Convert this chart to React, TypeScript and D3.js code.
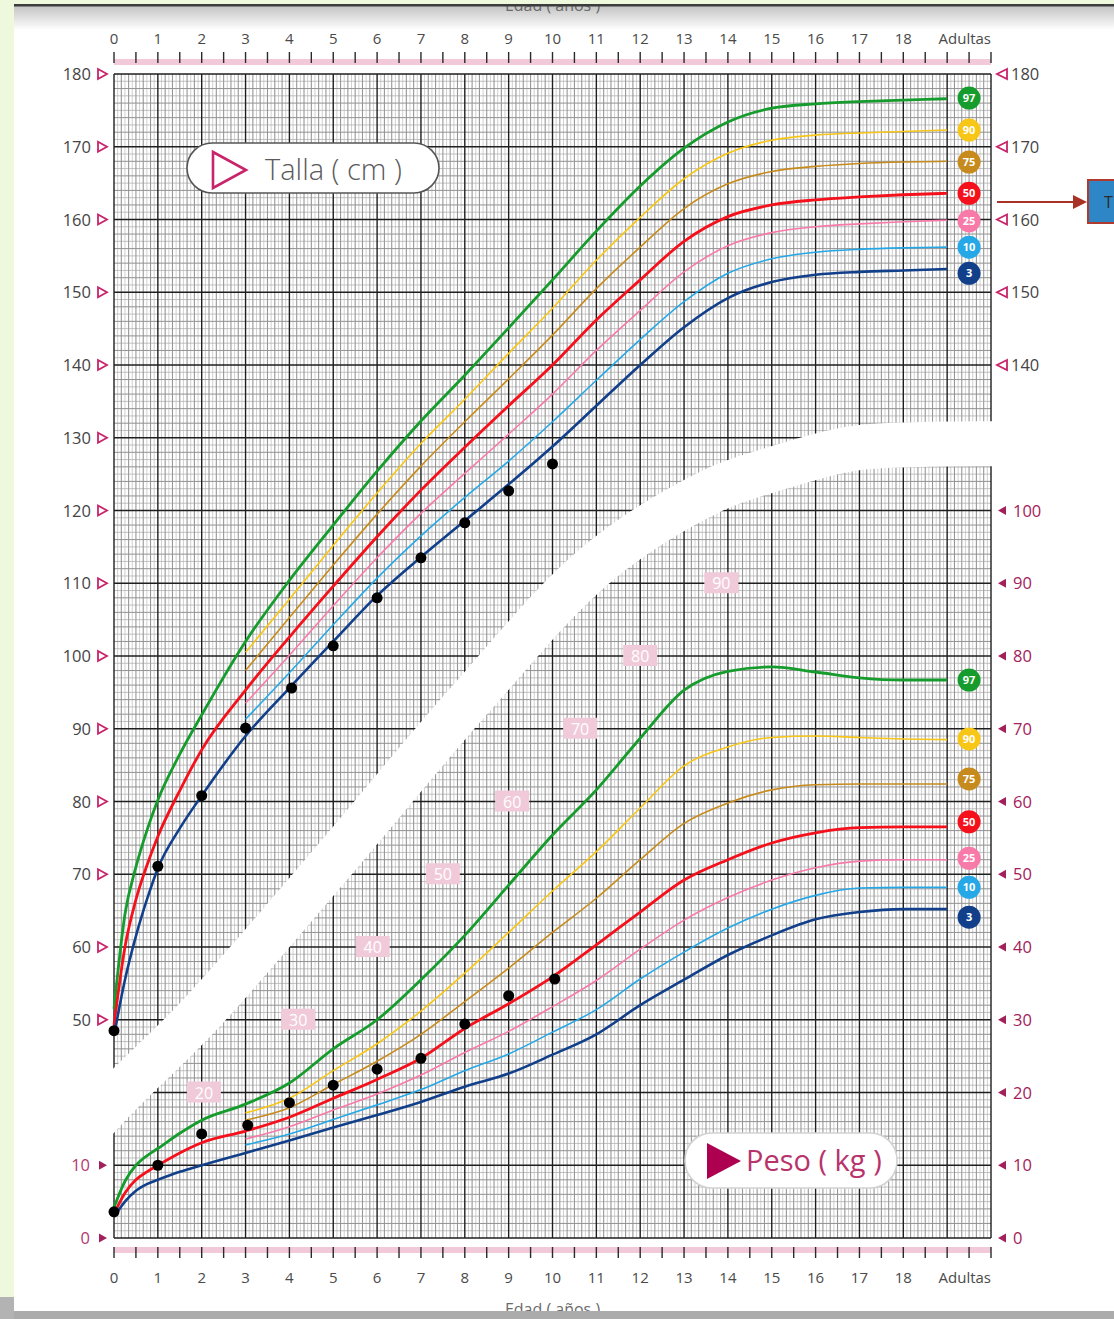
import React from "react";
import * as d3 from "d3";

const W = 1114;
const H = 1319;

// ---------- data ----------
const axisYearLabels = ["0","1","2","3","4","5","6","7","8","9","10","11","12","13","14","15","16","17","18"];
const adultLabel = "Adultas";
const heightLeftTicks = [50, 60, 70, 80, 90, 100, 110, 120, 130, 140, 150, 160, 170, 180];
const heightRightTicks = [140, 150, 160, 170, 180];
const weightLeftTicks = [0, 10];
const weightRightTicks = [0, 10, 20, 30, 40, 50, 60, 70, 80, 90, 100];

const curveAges = [0, 0.25, 0.5, 0.75, 1, 1.5, 2, 3, 4, 5, 6, 7, 8, 9, 10, 11, 12, 13, 14, 15, 16, 17, 18, 19];
const lateAges = [3, 4, 5, 6, 7, 8, 9, 10, 11, 12, 13, 14, 15, 16, 17, 18, 19];

const heightP97 = [51.5, 64.5, 71.0, 76.0, 80.2, 86.5, 91.9, 102.0, 110.4, 118.0, 125.4, 132.3, 138.6, 145.1, 151.7, 158.4, 164.6, 169.8, 173.4, 175.3, 175.9, 176.2, 176.4, 176.6];
const heightP90 = [100.5, 107.8, 115.2, 122.4, 129.2, 135.3, 141.6, 147.8, 154.4, 160.3, 165.6, 169.1, 170.9, 171.6, 171.9, 172.1, 172.3];
const heightP75 = [98.0, 105.3, 112.5, 119.5, 126.1, 132.2, 138.1, 144.1, 150.5, 156.2, 161.5, 164.9, 166.6, 167.3, 167.7, 167.9, 168.0];
const heightP50 = [49.3, 60.0, 66.5, 71.2, 75.2, 81.5, 87.1, 95.3, 102.6, 109.6, 116.4, 122.8, 128.7, 134.4, 140.0, 146.2, 151.7, 157.0, 160.4, 162.0, 162.7, 163.1, 163.4, 163.6];
const heightP25 = [93.5, 100.1, 106.9, 113.5, 119.6, 125.1, 130.5, 136.0, 142.0, 147.5, 152.8, 156.4, 158.2, 159.0, 159.4, 159.7, 159.9];
const heightP10 = [91.3, 97.7, 104.3, 110.7, 116.5, 121.8, 126.8, 132.2, 137.9, 143.5, 148.7, 152.6, 154.6, 155.5, 155.9, 156.1, 156.2];
const heightP3 = [47.8, 55.5, 61.5, 66.5, 70.8, 76.3, 80.8, 89.0, 95.6, 102.0, 108.3, 113.6, 118.6, 123.6, 128.8, 134.4, 140.0, 145.2, 149.2, 151.4, 152.4, 152.8, 153.0, 153.2];

const weightP97 = [4.2, 7.8, 10.0, 11.3, 12.3, 14.4, 16.2, 18.4, 21.3, 26.0, 30.0, 35.5, 41.6, 48.5, 55.4, 61.6, 68.7, 75.3, 77.9, 78.5, 77.8, 77.0, 76.7, 76.7];
const weightP90 = [17.2, 19.2, 23.0, 26.7, 31.2, 36.4, 42.0, 47.7, 53.1, 59.1, 64.9, 67.5, 68.8, 69.0, 68.8, 68.6, 68.5];
const weightP75 = [16.2, 17.9, 21.1, 24.3, 28.0, 32.5, 37.1, 42.0, 46.7, 52.0, 57.0, 59.8, 61.6, 62.3, 62.4, 62.4, 62.4];
const weightP50 = [3.3, 6.2, 8.0, 9.1, 10.0, 11.7, 13.1, 14.7, 16.6, 19.2, 21.8, 24.7, 28.8, 32.2, 35.9, 40.3, 44.8, 49.2, 52.0, 54.3, 55.7, 56.4, 56.5, 56.5];
const weightP25 = [13.6, 15.3, 17.6, 19.8, 22.4, 25.5, 28.4, 31.8, 35.4, 39.7, 43.7, 46.8, 49.2, 50.9, 51.8, 52.0, 52.0];
const weightP10 = [12.8, 14.3, 16.3, 18.3, 20.4, 23.0, 25.3, 28.3, 31.4, 35.6, 39.3, 42.6, 45.2, 47.1, 48.1, 48.2, 48.2];
const weightP3 = [2.9, 5.0, 6.5, 7.4, 8.0, 9.1, 10.0, 11.7, 13.4, 15.2, 16.9, 18.7, 20.8, 22.6, 25.2, 28.0, 32.0, 35.5, 38.9, 41.6, 43.8, 44.8, 45.2, 45.2];

const percentileNames = ["97", "90", "75", "50", "25", "10", "3"];
const heightBadgeValues = [176.7, 172.3, 167.9, 163.6, 159.8, 156.2, 152.6];
const weightBadgeValues = [76.7, 68.6, 63.1, 57.2, 52.2, 48.2, 44.1];

const heightDotAges = [0, 1, 2, 3, 4.05, 5.0, 6.0, 7.0, 8.0, 9.0, 10.0];
const heightDotValues = [48.5, 71.1, 80.8, 90.1, 95.6, 101.4, 108.0, 113.5, 118.3, 122.7, 126.4];
const weightDotAges = [0, 1, 2, 3.05, 4.0, 5.0, 6.0, 7.0, 8.0, 9.0, 10.05];
const weightDotValues = [3.6, 10.0, 14.3, 15.5, 18.6, 21.0, 23.2, 24.7, 29.4, 33.3, 35.6];

const scaleTagAges = [2.05, 4.2, 5.9, 7.5, 9.08, 10.63, 12.0, 13.85];
const scaleTagWeights = [20, 30, 40, 50, 60, 70, 80, 90];

// white separating band, centre line in (age, cm) units
const bandAges = [-1.5, 0, 1.96, 4.93, 8.12, 11.01, 13.64, 15.05, 16.81, 18.6, 21.5];
const bandValues = [29.0, 39.0, 50.7, 71.3, 94.0, 112.6, 122.7, 125.7, 128.5, 129.1, 129.1];

// ---------- styles ----------
const pColors = ["#169c2c", "#f7c616", "#c68b1c", "#f4111c", "#f77aa9", "#27a8e6", "#113f8a"];
const pWidths = [2.8, 1.6, 1.6, 2.8, 1.6, 1.6, 2.6];
const FONT = "'Open Sans', 'Noto Sans', sans-serif";
const PINK = "#c8246a";
const MAGENTA = "#a3215b";

export default function App() {
  const x = d3.scaleLinear().domain([0, 20]).range([114, 991]);
  const y = d3.scaleLinear().domain([20, 180]).range([1238, 74]);
  const yw = d3.scaleLinear().domain([0, 160]).range([1238, 74]);

  const lineH = d3.line<[number, number]>().x(d => x(d[0])).y(d => y(d[1])).curve(d3.curveMonotoneX);
  const lineW = d3.line<[number, number]>().x(d => x(d[0])).y(d => yw(d[1])).curve(d3.curveMonotoneX);
  const bandLine = d3.line<[number, number]>().x(d => x(d[0])).y(d => y(d[1])).curve(d3.curveCatmullRom.alpha(0.5));

  const heightSeries = [heightP97, heightP90, heightP75, heightP50, heightP25, heightP10, heightP3];
  const weightSeries = [weightP97, weightP90, weightP75, weightP50, weightP25, weightP10, weightP3];
  const zipAges = (vals: number[]) => (vals.length === curveAges.length ? curveAges : lateAges).map((a, i) => [a, vals[i]] as [number, number]);

  const [x0, x1] = x.range();
  const yTop = y(180), yBot = y(20);

  const vLines = d3.range(0, 241).map(i => ({ a: i / 12, kind: i % 12 === 0 ? 2 : i % 2 === 0 ? 1 : 0 }));
  const hLines = d3.range(20, 181).map(v => ({ v, kind: v % 10 === 0 ? 2 : v % 2 === 0 ? 1 : 0 }));
  const halfYears = d3.range(0, 41).map(i => i / 2);
  const badgeAge = 19.5;

  return (
    <div style={{ position: "absolute", left: 0, top: 0, width: W, height: H }}>
      <svg width={W} height={H} style={{ display: "block" }} fontFamily={FONT}>
        <defs>
          <linearGradient id="topShade" x1="0" y1="0" x2="0" y2="1">
            <stop offset="0" stopColor="#c4c4c4" />
            <stop offset="1" stopColor="#ffffff" />
          </linearGradient>
          <clipPath id="plotClip">
            <rect x={x0 - 2} y={yTop - 2} width={x1 - x0 + 4} height={yBot - yTop + 4} />
          </clipPath>
        </defs>

        <rect x={0} y={0} width={W} height={H} fill="#ffffff" />
        <rect x={14} y={6} width={W - 14} height={24} fill="url(#topShade)" />
        <text x={x(10)} y={11} textAnchor="middle" fontSize={16} fill="#6a6a6a">Edad ( años )</text>

        {/* grid */}
        <g clipPath="url(#plotClip)">
          {vLines.filter(l => l.kind === 0).map((l, i) => (
            <line key={"v0" + i} x1={x(l.a)} x2={x(l.a)} y1={yTop} y2={yBot} stroke="#c4c4c4" strokeWidth={0.8} />
          ))}
          {hLines.filter(l => l.kind === 0).map((l, i) => (
            <line key={"h0" + i} x1={x0} x2={x1} y1={y(l.v)} y2={y(l.v)} stroke="#b2b2b2" strokeWidth={0.8} />
          ))}
          {vLines.filter(l => l.kind === 1).map((l, i) => (
            <line key={"v1" + i} x1={x(l.a)} x2={x(l.a)} y1={yTop} y2={yBot} stroke="#979797" strokeWidth={1.1} />
          ))}
          {hLines.filter(l => l.kind === 1).map((l, i) => (
            <line key={"h1" + i} x1={x0} x2={x1} y1={y(l.v)} y2={y(l.v)} stroke="#929292" strokeWidth={1} />
          ))}
          {vLines.filter(l => l.kind === 2).map((l, i) => (
            <line key={"v2" + i} x1={x(l.a)} x2={x(l.a)} y1={yTop} y2={yBot} stroke="#1e1e1e" strokeWidth={1.4} />
          ))}
          {hLines.filter(l => l.kind === 2).map((l, i) => (
            <line key={"h2" + i} x1={x0} x2={x1} y1={y(l.v)} y2={y(l.v)} stroke="#1e1e1e" strokeWidth={1.4} />
          ))}
          <path d={bandLine(bandAges.map((a, i) => [a, bandValues[i]] as [number, number])) || ""} fill="none" stroke="#ffffff" strokeWidth={45} />
        </g>

        {/* scale tags inside weight grid */}
        {scaleTagAges.map((a, i) => (
          <g key={"tag" + i}>
            <rect x={x(a) - 17} y={yw(scaleTagWeights[i]) - 11} width={34} height={21} fill="#f1cada" />
            <text x={x(a)} y={yw(scaleTagWeights[i]) + 6} textAnchor="middle" fontSize={16} fill="#ffffff">{scaleTagWeights[i]}</text>
          </g>
        ))}

        {/* percentile curves */}
        {heightSeries.map((s, i) => (
          <path key={"hc" + i} d={lineH(zipAges(s)) || ""} fill="none" stroke={pColors[i]} strokeWidth={pWidths[i]} />
        ))}
        {weightSeries.map((s, i) => (
          <path key={"wc" + i} d={lineW(zipAges(s)) || ""} fill="none" stroke={pColors[i]} strokeWidth={pWidths[i]} />
        ))}

        {/* badges */}
        {percentileNames.map((p, i) => (
          <g key={"hb" + i}>
            <circle cx={x(badgeAge)} cy={y(heightBadgeValues[i])} r={11.5} fill={pColors[i]} />
            <text x={x(badgeAge)} y={y(heightBadgeValues[i]) + 4} textAnchor="middle" fontSize={11} fontWeight={700} fill="#ffffff">{p}</text>
          </g>
        ))}
        {percentileNames.map((p, i) => (
          <g key={"wb" + i}>
            <circle cx={x(badgeAge)} cy={yw(weightBadgeValues[i])} r={11.5} fill={pColors[i]} />
            <text x={x(badgeAge)} y={yw(weightBadgeValues[i]) + 4} textAnchor="middle" fontSize={11} fontWeight={700} fill="#ffffff">{p}</text>
          </g>
        ))}

        {/* child measurements */}
        {heightDotAges.map((a, i) => (
          <circle key={"hd" + i} cx={x(a)} cy={y(heightDotValues[i])} r={5.5} fill="#000000" />
        ))}
        {weightDotAges.map((a, i) => (
          <circle key={"wd" + i} cx={x(a)} cy={yw(weightDotValues[i])} r={5.5} fill="#000000" />
        ))}

        {/* top & bottom age axes */}
        <rect x={x0} y={59} width={x1 - x0} height={6} fill="#f2c9d8" />
        <rect x={x0} y={1247} width={x1 - x0} height={6} fill="#f2c9d8" />
        {halfYears.map((a, i) => (
          <g key={"tk" + i}>
            <line x1={x(a)} x2={x(a)} y1={52} y2={63} stroke="#2a2a2a" strokeWidth={1.4} />
            <line x1={x(a)} x2={x(a)} y1={1247} y2={1258} stroke="#2a2a2a" strokeWidth={1.4} />
          </g>
        ))}
        {axisYearLabels.map((l, i) => (
          <g key={"al" + i}>
            <text x={x(i)} y={44} textAnchor="middle" fontSize={15} fill="#4a4a4a">{l}</text>
            <text x={x(i)} y={1283} textAnchor="middle" fontSize={15} fill="#4a4a4a">{l}</text>
          </g>
        ))}
        <text x={x(20)} y={44} textAnchor="end" fontSize={15} fill="#4a4a4a">{adultLabel}</text>
        <text x={x(20)} y={1283} textAnchor="end" fontSize={15} fill="#4a4a4a">{adultLabel}</text>

        {/* left height axis */}
        {heightLeftTicks.map(v => (
          <g key={"hl" + v}>
            <text x={91} y={y(v) + 6} textAnchor="end" fontSize={16.5} fill="#444444">{v}</text>
            <path d={`M${98},${y(v) - 5}L${107},${y(v)}L${98},${y(v) + 5}Z`} fill="none" stroke={PINK} strokeWidth={1.8} />
          </g>
        ))}
        {/* left weight axis */}
        {weightLeftTicks.map(v => (
          <g key={"wl" + v}>
            <text x={90} y={yw(v) + 6} textAnchor="end" fontSize={16.5} fill="#b23a72">{v}</text>
            <path d={`M${99},${yw(v) - 4.5}L${107},${yw(v)}L${99},${yw(v) + 4.5}Z`} fill={MAGENTA} />
          </g>
        ))}
        {/* right height axis */}
        {heightRightTicks.map(v => (
          <g key={"hr" + v}>
            <path d={`M${1007},${y(v) - 5}L${997},${y(v)}L${1007},${y(v) + 5}Z`} fill="none" stroke={PINK} strokeWidth={1.8} />
            <text x={1011} y={y(v) + 6} textAnchor="start" fontSize={16.5} fill="#444444">{v}</text>
          </g>
        ))}
        {/* right weight axis */}
        {weightRightTicks.map(v => (
          <g key={"wr" + v}>
            <path d={`M${1006},${yw(v) - 4.5}L${998},${yw(v)}L${1006},${yw(v) + 4.5}Z`} fill={MAGENTA} />
            <text x={1013} y={yw(v) + 6} textAnchor="start" fontSize={16.5} fill={MAGENTA}>{v}</text>
          </g>
        ))}

        {/* Talla label */}
        <rect x={187} y={143} width={252} height={50} rx={25} fill="#ffffff" stroke="#555555" strokeWidth={1.6} />
        <path d="M213,152L246,170L213,188Z" fill="none" stroke={PINK} strokeWidth={2.6} />
        <text x={265} y={180} fontSize={29} fill="#5a5a5a" fontWeight={300}>Talla ( cm )</text>

        {/* Peso label */}
        <rect x={685} y={1133} width={212} height={55} rx={27} fill="#ffffff" stroke="#d2d2d2" strokeWidth={1.6} />
        <path d="M707,1143L741,1161L707,1179Z" fill="#ad0050" />
        <text x={746} y={1171} fontSize={29} fill="#b8336c">Peso ( kg )</text>

        {/* arrow and clipped box at right */}
        <line x1={997} y1={202} x2={1074} y2={202} stroke="#a93226" strokeWidth={2} />
        <path d="M1073,195L1087,202L1073,209Z" fill="#a93226" />
        <rect x={1088} y={180} width={40} height={43} fill="#2f86c6" stroke="#b03a2e" strokeWidth={2} />
        <text x={1104} y={208} fontSize={16} fill="#2a2a2a">T</text>

        {/* page borders */}
        <text x={x(10)} y={1315} textAnchor="middle" fontSize={16} fill="#6a6a6a">Edad ( años )</text>
        <rect x={0} y={1311} width={W} height={8} fill="#ababab" />
        <rect x={0} y={0} width={14} height={1297} fill="#eef8dd" />
        <rect x={0} y={1297} width={14} height={22} fill="#b3b3b3" />
        <rect x={0} y={0} width={W} height={4} fill="#eef8dd" />
        <rect x={14} y={4} width={W - 14} height={2.5} fill="#3c3c3c" />
      </svg>
    </div>
  );
}
